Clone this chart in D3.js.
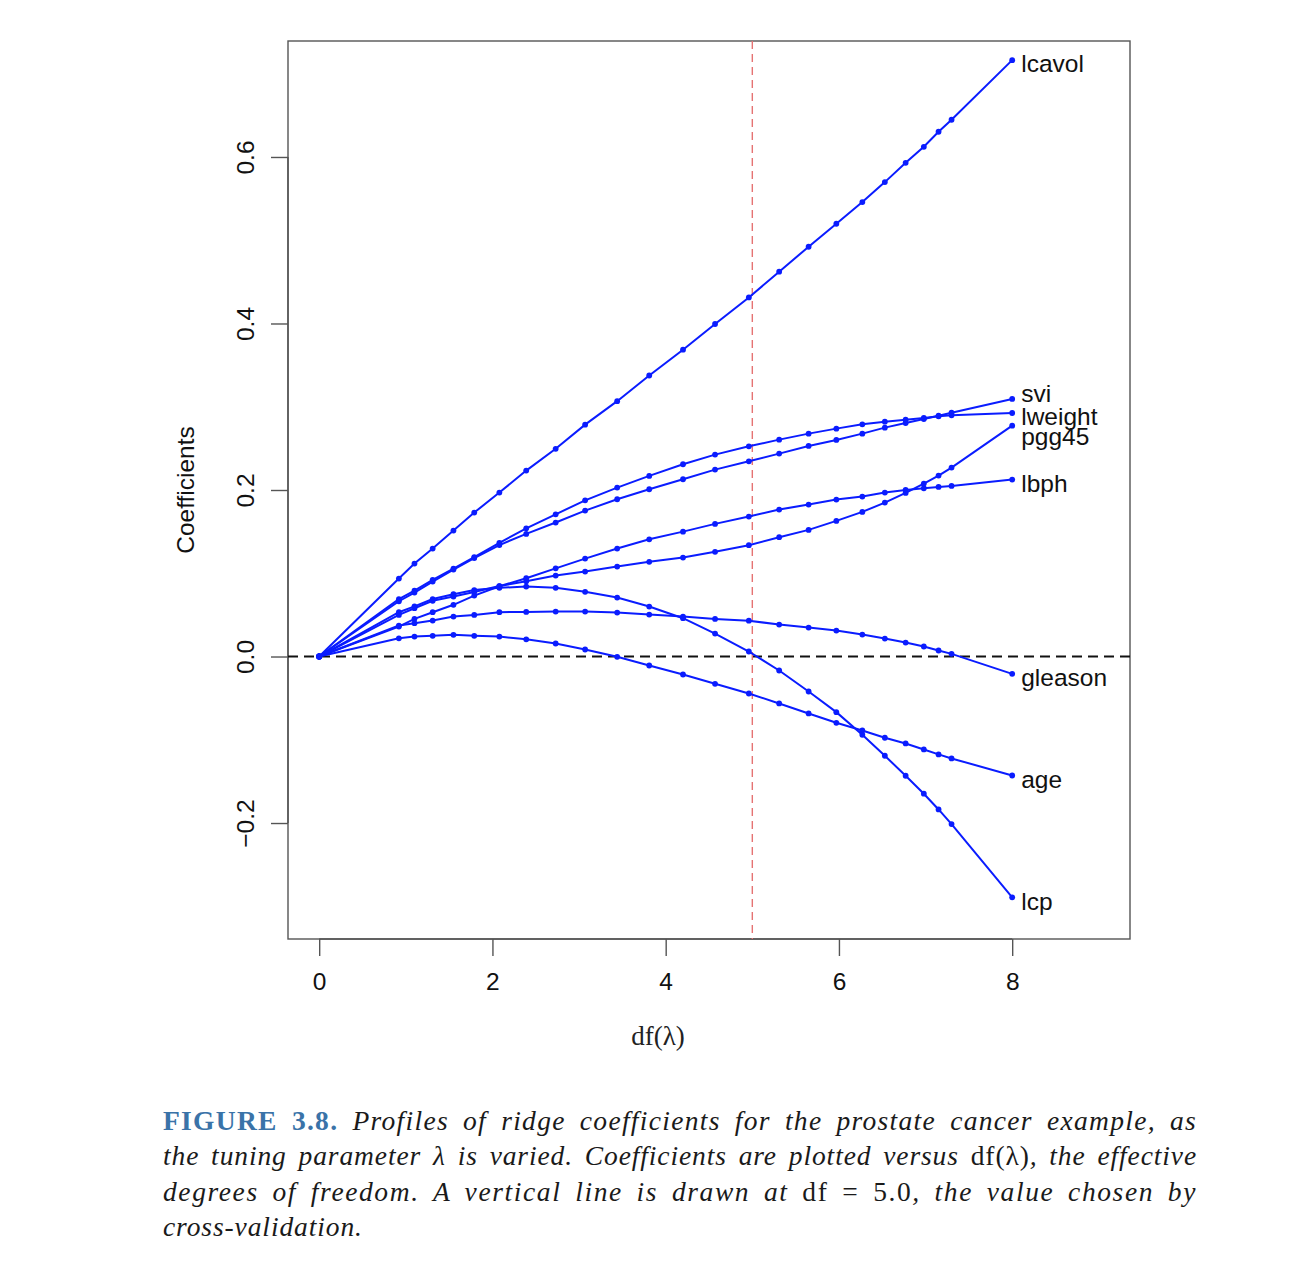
<!DOCTYPE html>
<html>
<head>
<meta charset="utf-8">
<script src="https://cdn.jsdelivr.net/npm/d3@7"></script>
<style>
  html, body { margin: 0; padding: 0; background: #fff; }
  svg { display: block; }
</style>
</head>
<body>
<div id="chart"></div>
<script>
// ================================
// Data
// ================================
const dfValues = [0, 0.92, 1.10, 1.31, 1.55, 1.79, 2.08, 2.39, 2.73, 3.07, 3.44, 3.81,
  4.20, 4.57, 4.96, 5.31, 5.65, 5.97, 6.27, 6.53, 6.77, 6.98, 7.15, 7.30, 8.00];

const seriesNames = ["lcavol", "lweight", "age", "lbph", "svi", "lcp", "gleason", "pgg45"];

const lcavol = [0, 0.0936, 0.1116, 0.1297, 0.1513, 0.1729, 0.1969, 0.2233, 0.2495, 0.2785, 0.3067, 0.3375,
  0.3685, 0.3994, 0.4313, 0.4622, 0.4922, 0.5198, 0.5458, 0.5698, 0.5930, 0.6122, 0.6303, 0.6447, 0.7163];
const lweight = [0, 0.0689, 0.0792, 0.0921, 0.1056, 0.1194, 0.1365, 0.1540, 0.1708, 0.1876, 0.2029, 0.2169,
  0.2309, 0.2425, 0.2525, 0.2605, 0.2677, 0.2737, 0.2789, 0.2821, 0.2845, 0.2865, 0.2885, 0.2897, 0.2925];
const age = [0, 0.0219, 0.0240, 0.0248, 0.0260, 0.0248, 0.0240, 0.0206, 0.0156, 0.0084, -0.0004, -0.0108,
  -0.0216, -0.0328, -0.0444, -0.0564, -0.0684, -0.0796, -0.0888, -0.0976, -0.1044, -0.1116, -0.1176, -0.1224, -0.1429];
const lbph = [0, 0.0360, 0.0453, 0.0532, 0.0621, 0.0732, 0.0844, 0.0940, 0.1059, 0.1176, 0.1297, 0.1408,
  0.1500, 0.1593, 0.1681, 0.1765, 0.1825, 0.1885, 0.1921, 0.1969, 0.2001, 0.2021, 0.2037, 0.2049, 0.2125];
const svi = [0, 0.0664, 0.0768, 0.0900, 0.1044, 0.1182, 0.1339, 0.1473, 0.1609, 0.1753, 0.1889, 0.2009,
  0.2129, 0.2245, 0.2345, 0.2437, 0.2529, 0.2601, 0.2677, 0.2749, 0.2805, 0.2853, 0.2893, 0.2929, 0.3094];
const lcp = [0, 0.0532, 0.0602, 0.0690, 0.0748, 0.0798, 0.0825, 0.0840, 0.0825, 0.0777, 0.0708, 0.0600,
  0.0460, 0.0276, 0.0060, -0.0168, -0.0420, -0.0668, -0.0940, -0.1192, -0.1432, -0.1648, -0.1837, -0.2013, -0.2893];
const gleason = [0, 0.0372, 0.0400, 0.0432, 0.0480, 0.0500, 0.0532, 0.0536, 0.0540, 0.0540, 0.0528, 0.0504,
  0.0480, 0.0452, 0.0430, 0.0384, 0.0348, 0.0312, 0.0264, 0.0216, 0.0168, 0.0120, 0.0072, 0.0032, -0.0208];
const pgg45 = [0, 0.0500, 0.0580, 0.0669, 0.0720, 0.0774, 0.0846, 0.0904, 0.0972, 0.1020, 0.1080, 0.1137,
  0.1188, 0.1257, 0.1337, 0.1433, 0.1521, 0.1629, 0.1737, 0.1849, 0.1965, 0.2077, 0.2173, 0.2269, 0.2773];

const seriesValues = [lcavol, lweight, age, lbph, svi, lcp, gleason, pgg45];

const xTicks = [0, 2, 4, 6, 8];
const yTicks = [-0.2, 0.0, 0.2, 0.4, 0.6];
const chosenDf = 5.0;

// ================================
// Layout
// ================================
const W = 1292, H = 1274;
const box = { left: 288, right: 1130, top: 41, bottom: 939 };
const BLUE = "#0a1cff";
const SANS = "'Liberation Sans', Arial, Helvetica, sans-serif";
const SERIF = "'Liberation Serif', 'DejaVu Serif', serif";

const svg = d3.select("#chart").append("svg")
  .attr("width", W)
  .attr("height", H);

const x = d3.scaleLinear().domain([-0.36, 9.36]).range([box.left, box.right]);
const y = d3.scaleLinear().domain([-0.3393, 0.7393]).range([box.bottom, box.top]);

// plot frame
svg.append("rect")
  .attr("x", box.left).attr("y", box.top)
  .attr("width", box.right - box.left).attr("height", box.bottom - box.top)
  .attr("fill", "none").attr("stroke", "#555").attr("stroke-width", 1.4);

// x axis (bottom)
const xAxis = svg.append("g")
  .attr("transform", `translate(0,${box.bottom})`)
  .call(d3.axisBottom(x).tickValues(xTicks).tickSize(17).tickPadding(17).tickFormat(d3.format("d")));
xAxis.select(".domain")
  .attr("d", `M${x(xTicks[0])},0H${x(xTicks[xTicks.length - 1])}`)
  .attr("stroke", "#555").attr("stroke-width", 1.4);
xAxis.selectAll(".tick line").attr("stroke", "#555").attr("stroke-width", 1.4);
xAxis.selectAll(".tick text")
  .attr("font-family", SANS).attr("font-size", 24.5).attr("fill", "#111");

// y axis (left), labels parallel to axis as in base R
const yAxis = svg.append("g")
  .attr("transform", `translate(${box.left},0)`)
  .call(d3.axisLeft(y).tickValues(yTicks).tickSize(17).tickFormat(d3.format(".1f")));
yAxis.select(".domain")
  .attr("d", `M0,${y(yTicks[0])}V${y(yTicks[yTicks.length - 1])}`)
  .attr("stroke", "#555").attr("stroke-width", 1.4);
yAxis.selectAll(".tick line").attr("stroke", "#555").attr("stroke-width", 1.4);
yAxis.selectAll(".tick text")
  .attr("font-family", SANS).attr("font-size", 24.5).attr("fill", "#111")
  .attr("text-anchor", "middle")
  .attr("x", null).attr("dy", null)
  .attr("transform", "translate(-34,0) rotate(-90)")
  .text(d => d3.format(".1f")(d).replace("-", "\u2212"));

// axis titles
svg.append("text")
  .attr("transform", `translate(194,${y(0.2)}) rotate(-90)`)
  .attr("text-anchor", "middle")
  .attr("font-family", SANS).attr("font-size", 24.5).attr("fill", "#111")
  .text("Coefficients");

svg.append("text")
  .attr("x", 658).attr("y", 1045)
  .attr("text-anchor", "middle")
  .attr("font-family", SERIF).attr("font-size", 27).attr("fill", "#222")
  .text("df(\u03bb)");

// reference lines
svg.append("line")
  .attr("x1", box.left).attr("x2", box.right)
  .attr("y1", y(0)).attr("y2", y(0))
  .attr("stroke", "#111").attr("stroke-width", 1.8)
  .attr("stroke-dasharray", "10 6");

svg.append("line")
  .attr("x1", x(chosenDf)).attr("x2", x(chosenDf))
  .attr("y1", box.top).attr("y2", box.bottom)
  .attr("stroke", "#e57373").attr("stroke-width", 1.4)
  .attr("stroke-dasharray", "8 5");

// series
const series = seriesNames.map((name, i) => ({
  name,
  points: dfValues.map((d, j) => ({ df: d, v: seriesValues[i][j] }))
}));

const line = d3.line().x(p => x(p.df)).y(p => y(p.v));

const sg = svg.selectAll(".series")
  .data(series)
  .enter()
  .append("g")
  .attr("class", "series");

sg.append("path")
  .attr("d", d => line(d.points))
  .attr("fill", "none")
  .attr("stroke", BLUE)
  .attr("stroke-width", 2);

sg.selectAll("circle")
  .data(d => d.points)
  .enter()
  .append("circle")
  .attr("cx", p => x(p.df))
  .attr("cy", p => y(p.v))
  .attr("r", 2.9)
  .attr("fill", BLUE);

// end labels, a couple nudged apart like the original
const labelShift = { svi: -9, pgg45: 7 };
sg.append("text")
  .attr("x", d => x(d.points[d.points.length - 1].df) + 9)
  .attr("y", d => y(d.points[d.points.length - 1].v) + (labelShift[d.name] || 0))
  .attr("dy", "0.5em")
  .attr("font-family", SANS).attr("font-size", 24.5).attr("fill", "#111")
  .text(d => d.name);

// ================================
// Caption (justified like the book)
// ================================
const capLeft = 163, capRight = 1197, capTop = 1130, capLead = 35.3;
const captionLines = [
  { parts: [["FIGURE 3.8.", "bold"], [" Profiles of ridge coefficients for the prostate cancer example, as", "it"]], justify: true },
  { parts: [["the tuning parameter ", "it"], ["\u03bb", "it"], [" is varied. Coefficients are plotted versus ", "it"], ["df(\u03bb)", "rm"], [", the effective", "it"]], justify: true },
  { parts: [["degrees of freedom. A vertical line is drawn at ", "it"], ["df = 5.0", "rm"], [", the value chosen by", "it"]], justify: true },
  { parts: [["cross-validation.", "it"]], justify: false }
];

captionLines.forEach((ln, i) => {
  const t = svg.append("text")
    .attr("x", capLeft).attr("y", capTop + i * capLead)
    .attr("font-family", SERIF).attr("font-size", 27.5).attr("fill", "#1a1a1a")
    .attr("xml:space", "preserve");
  ln.parts.forEach(([s, style]) => {
    const ts = t.append("tspan").text(s);
    if (style === "it") ts.attr("font-style", "italic");
    if (style === "bold") ts.attr("font-weight", "bold").attr("fill", "#3a73a8");
  });
  const full = ln.parts.map(p => p[0]).join("");
  if (ln.justify) {
    // spread the slack over letters and spaces so it reads like the wider CM face
    const spaces = (full.match(/ /g) || []).length;
    const chars = full.length - 1;
    const slack = capRight - capLeft - t.node().getComputedTextLength();
    const ls = slack * 0.6 / chars;
    t.attr("letter-spacing", ls);
    const w2 = t.node().getComputedTextLength();
    if (spaces > 0) t.attr("word-spacing", (capRight - capLeft - w2) / spaces);
  } else {
    t.attr("letter-spacing", 0.9);
  }
});
</script>
</body>
</html>
